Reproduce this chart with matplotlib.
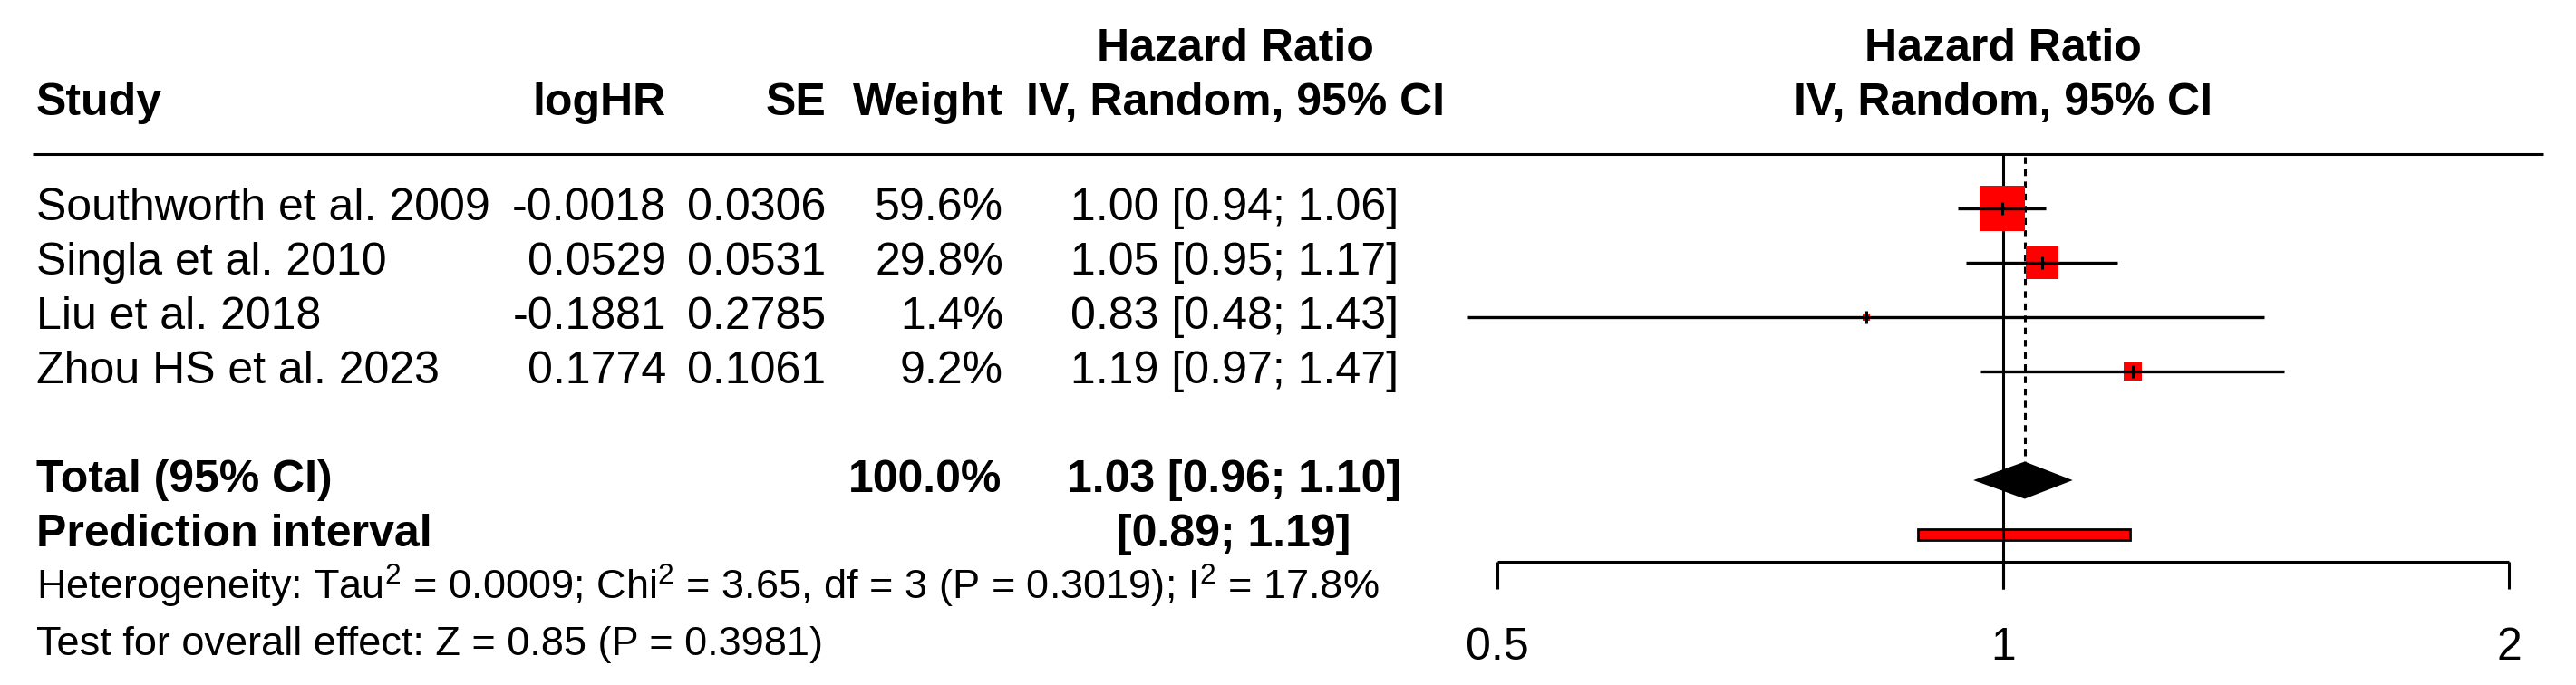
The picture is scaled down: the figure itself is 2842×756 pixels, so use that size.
import numpy as np
import matplotlib
matplotlib.use("Agg")
import matplotlib.pyplot as plt

plt.rcParams["font.family"] = ["Liberation Sans", "DejaVu Sans"]
plt.rcParams["mathtext.fontset"] = "custom"
plt.rcParams["mathtext.rm"] = "Liberation Sans"
plt.rcParams["mathtext.it"] = "Liberation Sans:italic"
plt.rcParams["mathtext.bf"] = "Liberation Sans:bold"

# --- DATA ---
studies = ["Southworth et al. 2009", "Singla et al. 2010", "Liu et al. 2018", "Zhou HS et al. 2023"]
log_hr = [-0.0018, 0.0529, -0.1881, 0.1774]
se = [0.0306, 0.0531, 0.2785, 0.1061]
weight = [59.6, 29.8, 1.4, 9.2]
hr = [1.00, 1.05, 0.83, 1.19]
ci_lo = [0.94, 0.95, 0.48, 0.97]
ci_hi = [1.06, 1.17, 1.43, 1.47]

pooled = [1.03, 0.96, 1.10]      # estimate, lower, upper
pred_int = [0.89, 1.19]
total_weight = 100.0
het_text = ("Heterogeneity: $\\mathrm{Tau}^2$ = 0.0009; $\\mathrm{Chi}^2$ = 3.65, "
            "df = 3 (P = 0.3019); $\\mathrm{I}^2$ = 17.8%")
test_text = "Test for overall effect: Z = 0.85 (P = 0.3981)"
x_ticks = [0.5, 1, 2]
x_tick_labels = ["0.5", "1", "2"]

# --- LAYOUT (pixels, rows of 60 px) ---
W, H = 2842, 756
ROW = 60.0
y_top = -3 - 50 / ROW
y_bot = y_top + H / ROW
FS = 36
FS_SMALL = 32.5
BL = 0.22

fig = plt.figure(figsize=(W / 100, H / 100), dpi=100)
ax = fig.add_axes([0, 0, 1, 1])
ax.set_xlim(0, W)
ax.set_ylim(y_bot, y_top)
ax.axis("off")

# forest panel: 0.5 at px 1652, 2 at px 2768
fx0, fx1 = 1600, W
p = (2768 - 1652) / 2
axf = fig.add_axes([fx0 / W, 0, (fx1 - fx0) / W, 1])
axf.set_xscale("log")
axf.set_xlim(0.5 * 2 ** (-(1652 - fx0) / p), 2 * 2 ** ((fx1 - 2768) / p))
axf.set_ylim(y_bot, y_top)
axf.axis("off")

# --- header ---
ax.text(1363, -3 + 0.29, "Hazard Ratio", ha="center", va="baseline", fontsize=FS, fontweight="bold")
ax.text(40, -2 + 0.29, "Study", ha="left", va="baseline", fontsize=FS, fontweight="bold")
ax.text(735, -2 + 0.29, "logHR", ha="right", va="baseline", fontsize=FS, fontweight="bold")
ax.text(911, -2 + 0.29, "SE", ha="right", va="baseline", fontsize=FS, fontweight="bold")
ax.text(1107, -2 + 0.29, "Weight", ha="right", va="baseline", fontsize=FS, fontweight="bold")
ax.text(1363, -2 + 0.29, "IV, Random, 95% CI", ha="center", va="baseline", fontsize=FS, fontweight="bold")
axf.text(1, -3 + 0.29, "Hazard Ratio", ha="center", va="baseline", fontsize=FS, fontweight="bold")
axf.text(1, -2 + 0.29, "IV, Random, 95% CI", ha="center", va="baseline", fontsize=FS, fontweight="bold")
ax.plot([36, 2806], [-1, -1], color="black", lw=2.2, solid_capstyle="butt")

# --- study rows ---
for i, name in enumerate(studies):
    y = i + BL
    ax.text(40, y, name, ha="left", va="baseline", fontsize=FS)
    ax.text(735, y, f"{log_hr[i]:.4f}", ha="right", va="baseline", fontsize=FS)
    ax.text(911, y, f"{se[i]:.4f}", ha="right", va="baseline", fontsize=FS)
    ax.text(1107, y, f"{weight[i]:.1f}%", ha="right", va="baseline", fontsize=FS)
    ax.text(1543, y, f"{hr[i]:.2f} [{ci_lo[i]:.2f}; {ci_hi[i]:.2f}]", ha="right", va="baseline", fontsize=FS)

# --- pooled rows ---
ax.text(40, 5 + BL, "Total (95% CI)", ha="left", va="baseline", fontsize=FS, fontweight="bold")
ax.text(1105, 5 + BL, f"{total_weight:.1f}%", ha="right", va="baseline", fontsize=FS, fontweight="bold")
ax.text(1546, 5 + BL, f"{pooled[0]:.2f} [{pooled[1]:.2f}; {pooled[2]:.2f}]",
        ha="right", va="baseline", fontsize=FS, fontweight="bold")
ax.text(40, 6 + BL, "Prediction interval", ha="left", va="baseline", fontsize=FS, fontweight="bold")
ax.text(1490, 6 + BL, f"[{pred_int[0]:.2f}; {pred_int[1]:.2f}]",
        ha="right", va="baseline", fontsize=FS, fontweight="bold")
ax.text(40, 7 + 0.2, het_text, ha="left", va="baseline", fontsize=FS_SMALL)
ax.text(40, 8 + 0.22, test_text, ha="left", va="baseline", fontsize=FS_SMALL)

# --- forest marks ---
px2pt = 72 / 100
rows = np.arange(len(studies))
axf.add_patch(plt.Rectangle((pred_int[0], 6 - 0.1), pred_int[1] - pred_int[0], 0.2,
                            facecolor="red", edgecolor="black", lw=2.0, zorder=1))
axf.plot([1, 1], [-1, 7], color="black", lw=2.2, zorder=2, solid_capstyle="butt")
axf.plot([pooled[0], pooled[0]], [-0.95, 5 - 0.34], color="black", lw=2.2,
         dashes=(2.4, 2.0), zorder=2)
est = np.exp(log_hr)
for i in rows:
    side = 6.6 * np.sqrt(weight[i])
    axf.plot(est[i], i, marker="s", markersize=side * px2pt, color="red",
             markeredgewidth=0, linestyle="none", zorder=3)
    axf.plot([ci_lo[i], ci_hi[i]], [i, i], color="black", lw=2.4, zorder=4,
             solid_capstyle="butt", clip_on=False)
    axf.plot(est[i], i, marker="|", markersize=14 * px2pt, color="black",
             markeredgewidth=2.2, zorder=5)

dh = 20.5 / ROW
axf.fill([pooled[1], pooled[0], pooled[2], pooled[0]], [5, 5 - dh, 5, 5 + dh],
         color="black", zorder=4, lw=0)

# --- x axis ---
axf.plot([x_ticks[0], x_ticks[-1]], [6.5, 6.5], color="black", lw=2.2, solid_capstyle="butt")
for t, lab in zip(x_ticks, x_tick_labels):
    axf.plot([t, t], [6.5, 7], color="black", lw=2.2, solid_capstyle="butt")
    axf.text(t, 8.3, lab, ha="center", va="baseline", fontsize=FS)

fig.savefig("out.png", dpi=100)
